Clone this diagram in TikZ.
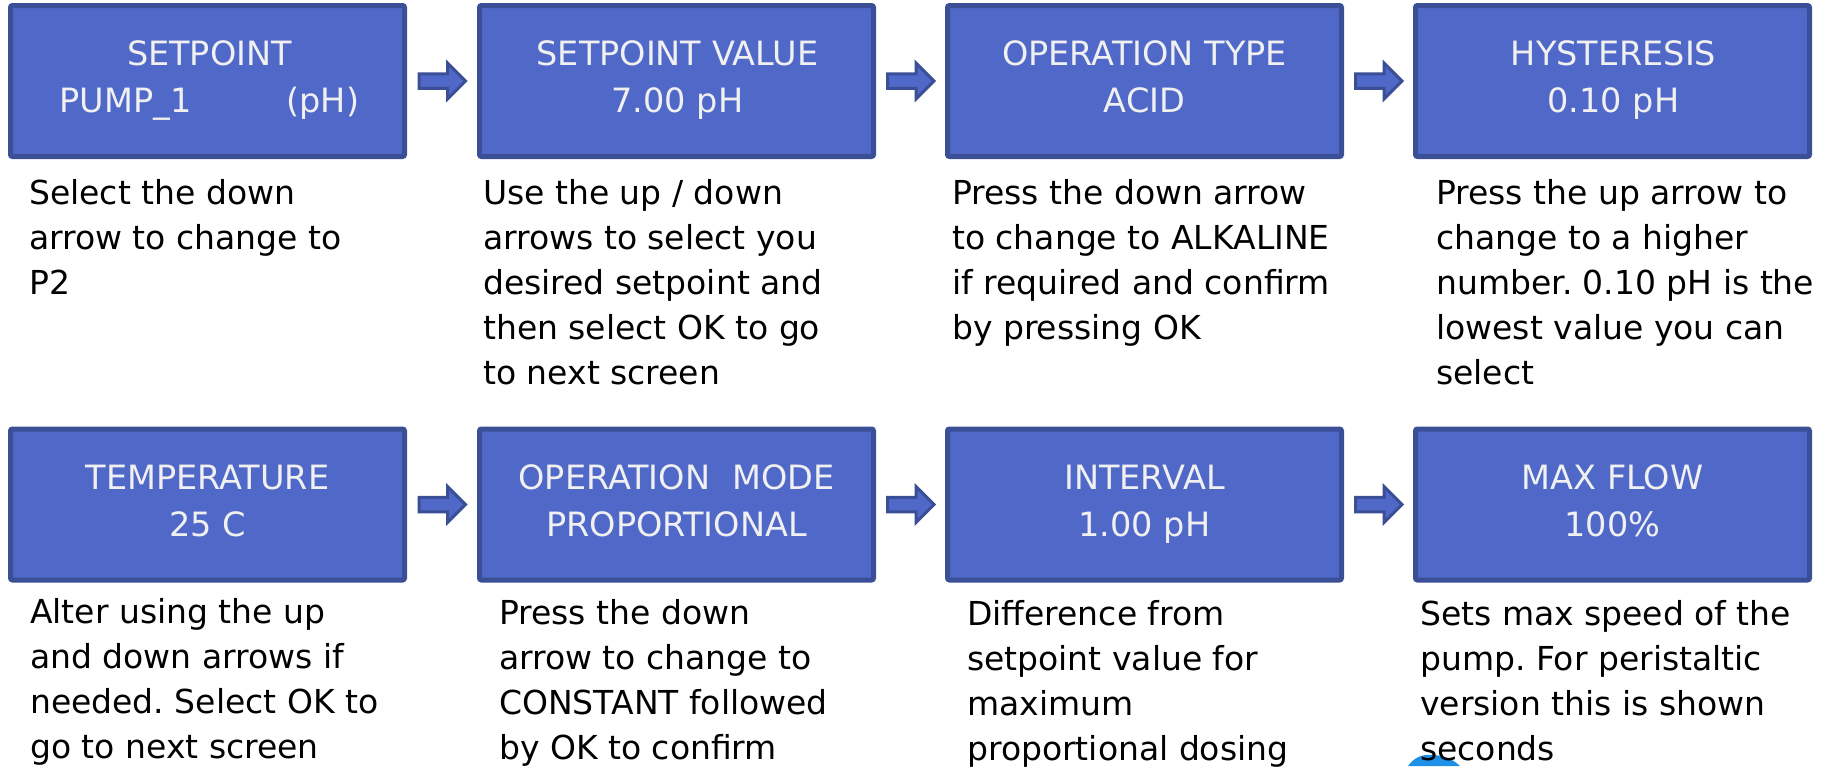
\documentclass[tikz,border=0pt]{standalone}
\usepackage{fontspec}
\setmainfont{DejaVu Sans}
\usetikzlibrary{calc}
\frenchspacing
\definecolor{boxfill}{RGB}{80,104,200}
\definecolor{boxline}{RGB}{58,79,150}
\definecolor{titletext}{RGB}{240,240,240}
\definecolor{logoblue}{RGB}{30,144,230}
\tikzset{
  stepbox/.style={draw=boxline, fill=boxfill, line width=5pt, rounded corners=2pt,
    minimum width=394pt, minimum height=151pt, inner sep=0pt},
  titletxt/.style={text=titletext, align=center, anchor=base, inner sep=0pt,
    font=\fontsize{33.5}{47}\selectfont},
  desctxt/.style={text=black, align=left, anchor=base west, inner sep=0pt,
    font=\fontsize{33}{45}\selectfont},
  barrow/.style={draw=boxline, fill=boxfill, line width=3pt, line join=miter},
}
\newcommand\blockarrow[2]{%
  \path ($(#1.east)!0.5!(#2.west)$) coordinate (m#1);
  \draw[barrow] (m#1) ++(-23,-7.25) -- ++(28.5,0) -- ++(0,-10.75) -- ++(18,18)
    -- ++(-18,18) -- ++(0,-10.75) -- ++(-28.5,0) -- cycle;}
\begin{document}
\begin{tikzpicture}[x=1pt,y=-1pt]
\useasboundingbox (0,0) rectangle (1829,766);
% row 1 boxes
\node[stepbox] (b1) at (207.5,81) {};
\node[stepbox] (b2) at (676.5,81) {};
\node[stepbox] (b3) at (1144.5,81) {};
\node[stepbox] (b4) at (1612.5,81) {};
% row 2 boxes
\node[stepbox] (b5) at (207.5,504.5) {};
\node[stepbox] (b6) at (676.5,504.5) {};
\node[stepbox] (b7) at (1144.5,504.5) {};
\node[stepbox] (b8) at (1612.5,504.5) {};
% titles (anchor base = baseline of last line)
\node[titletxt] (t1) at (209.5,112) {SETPOINT\\PUMP\_1\hspace{95pt}(pH)};
\node[titletxt] (t2) at (677.5,112) {SETPOINT VALUE\\7.00 pH};
\node[titletxt] (t3) at (1144.5,112) {OPERATION TYPE\\ACID};
\node[titletxt] (t4) at (1613.5,112) {HYSTERESIS\\0.10 pH};
\node[titletxt] (t5) at (207.5,536) {TEMPERATURE\\25 C};
\node[titletxt] (t6) at (676.5,536) {OPERATION\hspace{22pt}MODE\\PROPORTIONAL};
\node[titletxt] (t7) at (1144.5,536) {INTERVAL\\1.00 pH};
\node[titletxt] (t8) at (1612.5,536) {MAX FLOW\\100\%};
% arrows
\blockarrow{b1}{b2}
\blockarrow{b2}{b3}
\blockarrow{b3}{b4}
\blockarrow{b5}{b6}
\blockarrow{b6}{b7}
\blockarrow{b7}{b8}
% descriptions row 1 (anchor base = baseline of last line)
\node[desctxt] (d1) at (29,294) {Select the down\\arrow to change to\\P2};
\node[desctxt] (d2) at (483,384) {Use the up / down\\arrows to select you\\desired setpoint and\\then select OK to go\\to next screen};
\node[desctxt] (d3) at (952,339) {Press the down arrow\\to change to ALKALINE\\if required and confirm\\by pressing OK};
\node[desctxt] (d4) at (1436,384) {Press the up arrow to\\change to a higher\\number. 0.10 pH is the\\lowest value you can\\select};
% descriptions row 2
\node[desctxt] (d5) at (30,758) {Alter using the up\\and down arrows if\\needed. Select OK to\\go to next screen};
\node[desctxt] (d6) at (499,759) {Press the down\\arrow to change to\\CONSTANT followed\\by OK to confirm};
\node[desctxt] (d7) at (967,760) {Difference from\\setpoint value for\\maximum\\proportional dosing};
% logo fragment (behind last text)
\fill[logoblue] (1408,766) .. controls (1412,760) and (1418,756) .. (1425,755)
  .. controls (1440,754) and (1452,758) .. (1460,766) -- cycle;
\node[desctxt] (d8) at (1420,760) {Sets max speed of the\\pump. For peristaltic\\version this is shown\\seconds};
\end{tikzpicture}
\end{document}
